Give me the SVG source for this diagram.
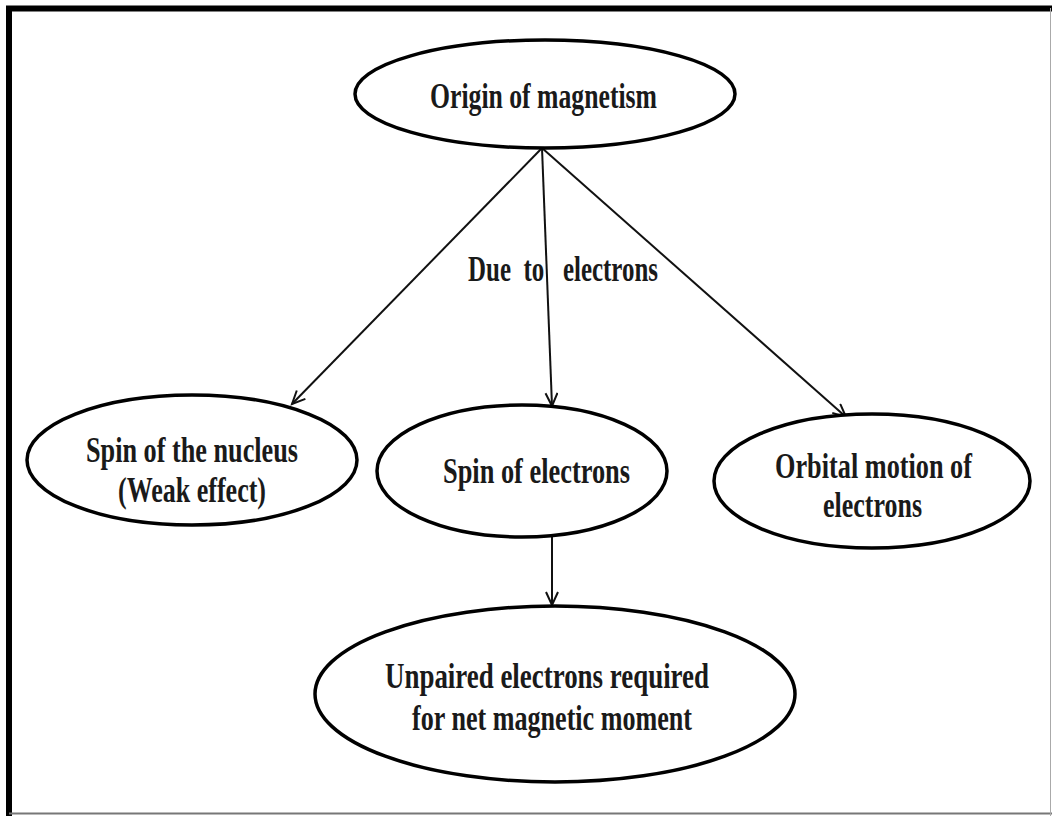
<svg xmlns="http://www.w3.org/2000/svg" width="1052" height="816" viewBox="0 0 1052 816">
<style>
.node ellipse{fill:#fff;stroke:#000;stroke-width:3.5}
.node text,.lbl{font-family:"Liberation Serif","Times New Roman",serif;font-weight:bold;font-size:36px;fill:#1a1a1a}
.conn line{stroke:#111;stroke-width:2}
</style>
<defs>
<marker id="arr" markerUnits="userSpaceOnUse" markerWidth="18" markerHeight="16" refX="14" refY="7" orient="auto">
<path d="M1,1 L14,7 L1,13" fill="none" stroke="#111" stroke-width="2"/>
</marker>
</defs>
<rect width="1052" height="816" fill="#fff"/>
<g id="frame">
<line x1="6" y1="8.5" x2="1052" y2="8.5" stroke="#000" stroke-width="6"/>
<line x1="9" y1="6" x2="9" y2="816" stroke="#000" stroke-width="6"/>
<line x1="9" y1="813.5" x2="1052" y2="813.5" stroke="#777" stroke-width="2"/>
<line x1="1050.5" y1="8" x2="1050.5" y2="816" stroke="#aaa" stroke-width="1"/>
</g>
<g class="conn" id="connectors">
<line x1="542" y1="148" x2="292" y2="404" marker-end="url(#arr)"/>
<line x1="542" y1="148" x2="552" y2="406" marker-end="url(#arr)"/>
<line x1="542" y1="148" x2="846" y2="417" marker-end="url(#arr)"/>
<line x1="552" y1="537" x2="552" y2="605" marker-end="url(#arr)"/>
<text class="lbl" x="468" y="281" textLength="190" lengthAdjust="spacingAndGlyphs" xml:space="preserve">Due  to   electrons</text>
</g>
<g class="node" id="origin">
<ellipse cx="545" cy="94" rx="190" ry="54"/>
<text x="430" y="108" textLength="227" lengthAdjust="spacingAndGlyphs">Origin of magnetism</text>
</g>
<g class="node" id="nucleus">
<ellipse cx="192" cy="460" rx="165" ry="65"/>
<text x="86" y="462" textLength="212" lengthAdjust="spacingAndGlyphs">Spin of the nucleus</text>
<text x="118" y="502" textLength="148" lengthAdjust="spacingAndGlyphs">(Weak effect)</text>
</g>
<g class="node" id="spin">
<ellipse cx="522" cy="471" rx="145" ry="66"/>
<text x="443" y="483" textLength="187" lengthAdjust="spacingAndGlyphs">Spin of electrons</text>
</g>
<g class="node" id="orbital">
<ellipse cx="872" cy="481" rx="158" ry="67"/>
<text x="775" y="478" textLength="197" lengthAdjust="spacingAndGlyphs">Orbital motion of</text>
<text x="823" y="517" textLength="99" lengthAdjust="spacingAndGlyphs">electrons</text>
</g>
<g class="node" id="unpaired">
<ellipse cx="555" cy="694" rx="240" ry="88"/>
<text x="385" y="688" textLength="324" lengthAdjust="spacingAndGlyphs">Unpaired electrons required</text>
<text x="412" y="730" textLength="280" lengthAdjust="spacingAndGlyphs">for net magnetic moment</text>
</g>
</svg>
